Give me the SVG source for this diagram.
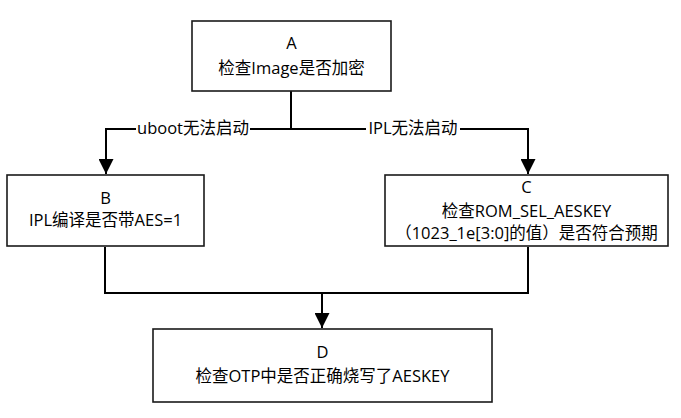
<svg xmlns="http://www.w3.org/2000/svg" width="681" height="418" viewBox="0 0 681 418">
<defs>
<style>
.box{fill:#fff;stroke:#1a1a1a;stroke-width:1.6}
.t{font-family:"Open Sans","Noto Sans CJK SC",sans-serif;font-size:16.5px;fill:#000;text-anchor:middle}
.c{fill:none;stroke:#000;stroke-width:2}
.lbl{fill:#fff}
</style>
<marker id="ah" markerWidth="16" markerHeight="15" refX="15" refY="7.5" orient="auto" markerUnits="userSpaceOnUse">
<path d="M0,0 L15,7.5 L0,15 Z" fill="#000"/>
</marker>
</defs>
<rect width="681" height="418" fill="#fff"/>
<g id="connectors">
<path class="c" d="M291,91 V129"/>
<path class="c" d="M291,129 H106 V174" marker-end="url(#ah)"/>
<path class="c" d="M291,129 H528 V174" marker-end="url(#ah)"/>
<path class="c" d="M105,247 V293 H528 V247"/>
<path class="c" d="M322,293 V328" marker-end="url(#ah)"/>
<rect class="lbl" x="136" y="119" width="114" height="20"/>
<text class="t" x="193" y="134">uboot无法启动</text>
<rect class="lbl" x="366" y="119" width="94" height="20"/>
<text class="t" x="413" y="134">IPL无法启动</text>
</g>
<g id="A">
<rect class="box" x="192" y="21" width="199" height="70"/>
<text class="t" x="291.5" y="49">A</text>
<text class="t" x="291.5" y="74">检查Image是否加密</text>
</g>
<g id="B">
<rect class="box" x="7" y="175" width="197" height="71"/>
<text class="t" x="105.5" y="204">B</text>
<text class="t" x="105.5" y="226">IPL编译是否带AES=1</text>
</g>
<g id="C">
<rect class="box" x="385" y="175" width="283" height="71"/>
<text class="t" x="526.5" y="193">C</text>
<text class="t" x="526.5" y="217">检查ROM_SEL_AESKEY</text>
<text class="t" x="526.5" y="239">（1023_1e[3:0]的值）是否符合预期</text>
</g>
<g id="D">
<rect class="box" x="153" y="329" width="339" height="73"/>
<text class="t" x="322.5" y="358">D</text>
<text class="t" x="322.5" y="382">检查OTP中是否正确烧写了AESKEY</text>
</g>
</svg>
